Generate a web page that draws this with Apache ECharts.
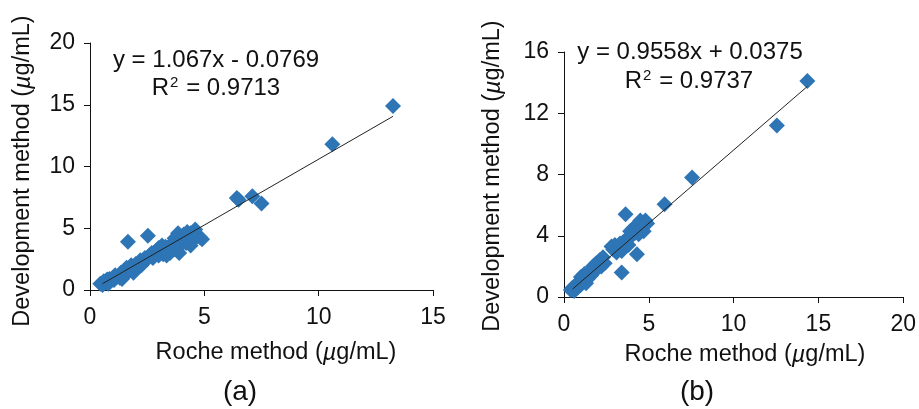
<!DOCTYPE html>
<html>
<head>
<meta charset="utf-8">
<script src="https://cdn.jsdelivr.net/npm/echarts@6/dist/echarts.min.js"></script>
<style>
  html, body { margin: 0; padding: 0; background: #fff; }
  #chart { width: 919px; height: 409px; }
</style>
</head>
<body>
<div id="chart"></div>
<script>
// panel (a): Roche vs development method
var pointsA = [
  [0.45, 0.5], [0.55, 0.4], [0.6, 0.7], [0.7, 0.6], [0.75, 0.85], [0.8, 0.5], [0.85, 0.9],
  [0.9, 0.75], [1.0, 1.0], [1.05, 0.8], [1.1, 1.2], [1.2, 1.1], [1.3, 1.0], [1.35, 1.4],
  [1.4, 0.9], [1.5, 1.6], [1.55, 1.3], [1.6, 1.8], [1.7, 1.5], [1.66, 3.9], [1.8, 2.0],
  [1.85, 1.6], [1.9, 1.4], [2.0, 2.1], [2.1, 1.9], [2.2, 2.4], [2.3, 2.2], [2.4, 2.6],
  [2.53, 4.4], [2.5, 2.5], [2.6, 2.8], [2.7, 3.0], [2.8, 2.9], [2.9, 3.2], [3.0, 2.8],
  [3.0, 3.4], [3.1, 3.1], [3.2, 2.9], [3.3, 3.5], [3.4, 3.2], [3.5, 3.0], [3.5, 3.4],
  [3.6, 3.8], [3.7, 3.3], [3.7, 4.2], [3.8, 3.6], [3.9, 4.4], [3.9, 3.0], [4.0, 4.0],
  [4.0, 3.7], [4.1, 4.5], [4.2, 3.8], [4.3, 4.2], [4.4, 3.6], [4.4, 4.6], [4.5, 4.0],
  [4.6, 4.9], [4.7, 4.4], [4.8, 4.3], [4.9, 4.1], [2.25, 2.0], [2.75, 2.6], [3.35, 2.8],
  [1.95, 1.9], [3.15, 3.6], [3.85, 4.6], [4.25, 4.7],
  [6.42, 7.45], [6.5, 7.3], [7.1, 7.6], [7.5, 7.0], [10.6, 11.8], [13.25, 14.9]
];
var slopeA = 1.067, interceptA = -0.0769;
var eqTextA = 'y = 1.067x - 0.0769';
var r2TextA = '0.9713';

// panel (b)
var pointsB = [
  [0.4, 0.45], [0.5, 0.6], [0.6, 0.4], [0.7, 0.8], [0.8, 0.6], [0.9, 1.0], [1.0, 0.8],
  [1.0, 1.3], [1.1, 1.1], [1.2, 1.5], [1.3, 0.9], [1.4, 1.2], [1.5, 1.6], [1.6, 1.4],
  [1.7, 2.0], [1.8, 1.7], [1.9, 2.2], [2.0, 1.9], [2.1, 2.4], [2.2, 2.0], [2.3, 2.6],
  [2.4, 2.2], [2.8, 3.3], [2.9, 3.1], [3.0, 3.4], [3.1, 2.9], [3.2, 3.2], [3.3, 3.5],
  [3.4, 1.6], [3.4, 3.0], [3.5, 3.6], [3.63, 5.4], [3.6, 3.3], [3.7, 3.8], [3.8, 3.4],
  [3.9, 4.3], [4.0, 4.0], [4.1, 4.5], [4.2, 4.2], [4.3, 2.8], [4.3, 4.7], [4.4, 4.1],
  [4.5, 5.0], [4.6, 4.6], [4.7, 4.3], [4.8, 5.0], [4.9, 4.8],
  [5.93, 6.05], [7.55, 7.8], [12.55, 11.2], [14.35, 14.1]
];
var slopeB = 0.9558, interceptB = 0.0375;
var eqTextB = 'y = 0.9558x + 0.0375';
var r2TextB = '0.9737';

var ticksA = { xMax: 15, xStep: 5, yMax: 20, yStep: 5 };
var ticksB = { xMax: 20, xStep: 5, yMax: 16, yStep: 4 };

var FONT = 'Liberation Sans, Arial, sans-serif';
var INK = '#111';
var BLUE = '#2e75b6';

// trendline from smallest to largest x of the data
function trend(pts, k, b) {
  var xs = pts.map(function (p) { return p[0]; });
  var x0 = Math.min.apply(null, xs) + 0.1, x1 = Math.max.apply(null, xs);
  return [[x0, k * x0 + b], [x1, k * x1 + b]];
}

function axis(idx, max, step) {
  return {
    type: 'value', gridIndex: idx, min: 0, max: max, interval: step,
    splitLine: { show: false },
    axisLine: { show: true, onZero: false, lineStyle: { color: INK, width: 1 } },
    axisTick: { show: true, length: 6, lineStyle: { color: INK } },
    axisLabel: { color: INK, fontSize: 23, fontFamily: FONT, margin: 15 }
  };
}

var titleRich = {
  n: { fontSize: 23.5, fontFamily: FONT, color: INK },
  i: { fontSize: 23.5, fontFamily: FONT, color: INK, fontStyle: 'italic' }
};
var eqRich = {
  n: { fontSize: 24, fontFamily: FONT, color: INK },
  s: { fontSize: 15, fontFamily: FONT, color: INK, padding: [0, 1, 10, 1] }
};

function txt(x, y, text, rich, rot, size) {
  return {
    type: 'text', x: x, y: y, rotation: rot || 0,
    style: {
      text: text, rich: rich, align: 'center', verticalAlign: 'middle',
      fontSize: size || 22, fontFamily: FONT, fill: INK
    }
  };
}

var chart = echarts.init(document.getElementById('chart'));
var xA = axis(0, ticksA.xMax, ticksA.xStep);
var yA = axis(0, ticksA.yMax, ticksA.yStep);
var xB = axis(1, ticksB.xMax, ticksB.xStep);
var yB = axis(1, ticksB.yMax, ticksB.yStep);
xA.axisLabel.margin = 16; xB.axisLabel.margin = 16;

chart.setOption({
  animation: false,
  backgroundColor: '#fff',
  grid: [
    { left: 90, top: 43, width: 343, height: 247 },
    { left: 564, top: 52, width: 347, height: 245 }
  ],
  xAxis: [xA, xB],
  yAxis: [yA, yB],
  series: [
    {
      type: 'scatter', xAxisIndex: 0, yAxisIndex: 0, data: pointsA,
      symbol: 'diamond', symbolSize: 16, itemStyle: { color: BLUE, opacity: 1 }
    },
    {
      type: 'line', xAxisIndex: 0, yAxisIndex: 0, data: trend(pointsA, slopeA, interceptA),
      symbol: 'none', lineStyle: { color: '#222', width: 1 }, z: 3
    },
    {
      type: 'scatter', xAxisIndex: 1, yAxisIndex: 1, data: pointsB,
      symbol: 'diamond', symbolSize: 16, itemStyle: { color: BLUE, opacity: 1 }
    },
    {
      type: 'line', xAxisIndex: 1, yAxisIndex: 1, data: trend(pointsB, slopeB, interceptB),
      symbol: 'none', lineStyle: { color: '#222', width: 1 }, z: 3
    }
  ],
  graphic: [
    txt(216, 60, '{n|' + eqTextA + '}', eqRich),
    txt(216, 88, '{n|R}{s|2}{n| = ' + r2TextA + '}', eqRich),
    txt(690, 52, '{n|' + eqTextB + '}', eqRich),
    txt(689, 81, '{n|R}{s|2}{n| = ' + r2TextB + '}', eqRich),
    txt(23, 171, '{n|Development method (}{i|µ}{n|g/mL)}', titleRich, Math.PI / 2),
    txt(276, 353, '{n|Roche method (}{i|µ}{n|g/mL)}', titleRich),
    txt(493, 176, '{n|Development method (}{i|µ}{n|g/mL)}', titleRich, Math.PI / 2),
    txt(745, 355, '{n|Roche method (}{i|µ}{n|g/mL)}', titleRich),
    txt(240, 392, '(a)', null, 0, 28),
    txt(697, 392, '(b)', null, 0, 28)
  ]
});
</script>
</body>
</html>
